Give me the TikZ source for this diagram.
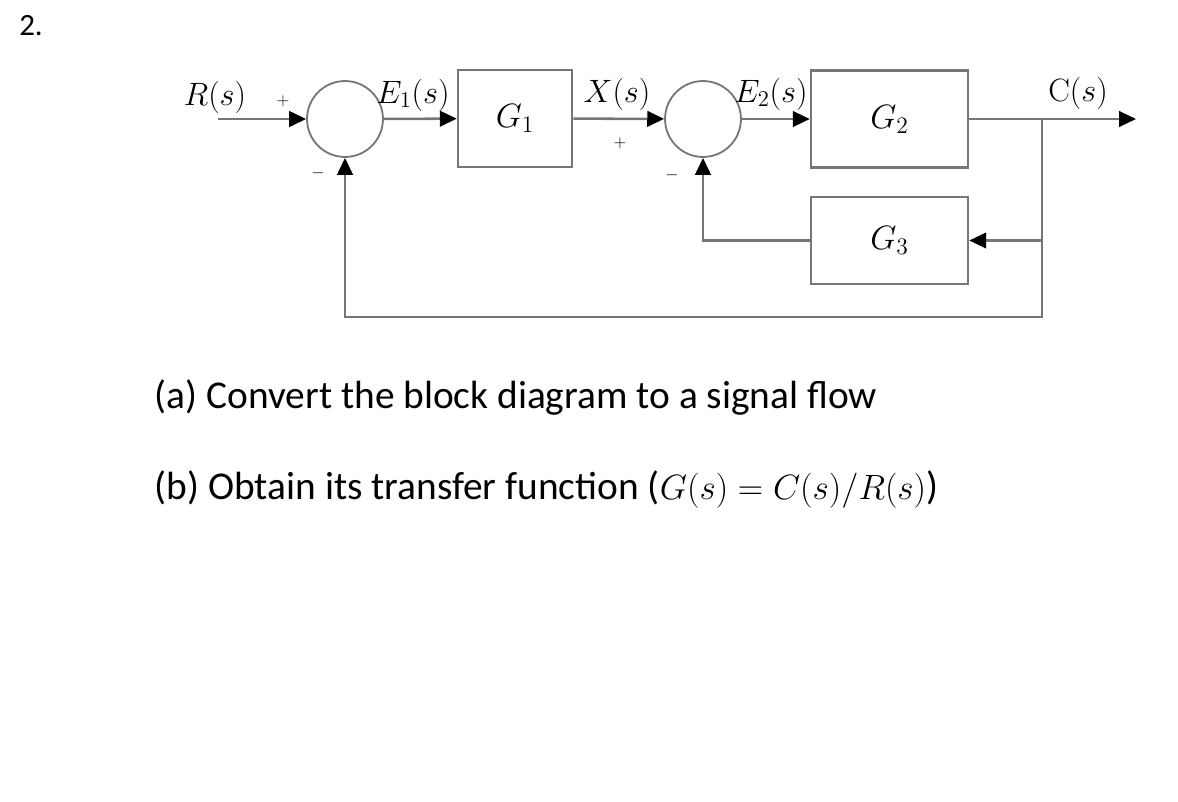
\RequirePackage{fix-cm}
\documentclass[tikz,border=0pt]{standalone}
\usepackage[no-math]{fontspec}
\setmainfont{Carlito}
\usepackage{amsmath}
\usepackage{tikz}
\usetikzlibrary{arrows.meta,positioning}
\definecolor{wire}{RGB}{118,118,118}
\tikzstyle{arrow} = [line width=1.8pt,draw=wire,-{Triangle[length=12pt,width=11pt,color=black]}]
\tikzstyle{block} = [rectangle, line width=1.8pt, draw=wire, fill=white]
\tikzstyle{sum} = [circle, line width=1.3pt, draw=wire, minimum size=54, inner sep=0pt]
\tikzstyle{sig} = [font=\fontsize{23}{26}\selectfont]
\tikzstyle{sgn} = [font=\fontsize{12}{14}\selectfont]

\begin{document}
\begin{tikzpicture}[x=0.025cm,y=-0.025cm]
        \useasboundingbox (0,0) rectangle (1178,802);
        \node (num) at (31,26) {\fontsize{22}{26}\selectfont 2.};

        \node (s1) [sum] at (345,119) {};
        \node (g1) [block, minimum width=114*0.025cm, minimum height=97*0.025cm] at (515,118.5) {\fontsize{24}{28}\selectfont $G_1$};
        \node (s2) [sum] at (703,119) {};
        \node (g2) [block, minimum width=157*0.025cm, minimum height=97*0.025cm] at (889.5,119) {\fontsize{24}{28}\selectfont $G_2$};
        \node (g3) [block, minimum width=157*0.025cm, minimum height=87*0.025cm] at (889.5,240.5) {\fontsize{24}{28}\selectfont $G_3$};

        \coordinate (in) at (218,119);
        \coordinate (br) at (1042,119);
        \coordinate (out) at (1136,119);
        \coordinate (bot) at (1042,317);

        % forward path
        \draw[arrow] (in) -- (s1);
        \draw[arrow] (s1) -- (g1);
        \draw[arrow] (g1) -- (s2);
        \draw[arrow] (s2) -- (g2);
        \draw[arrow] (g2) -- (out);

        % feedback paths
        \draw[arrow] (br) |- (g3.east);
        \draw[arrow] (g3.west) -| (s2.south);
        \draw[arrow] (br) -- (bot) -| (s1.south);

        % signal labels
        \node (r) [sig] at (215,97) {$R(s)$};
        \node (e1) [sig] at (413,95) {$E_1(s)$};
        \node (x) [sig] at (617,94) {$X(s)$};
        \node (e2) [sig] at (771,94) {$E_2(s)$};
        \node (c) [sig] at (1078,93) {$\mathrm{C}(s)$};
        \node (p1) [sgn] at (283,101) {$+$};
        \node (m1) [sgn] at (318,173) {$-$};
        \node (p2) [sgn] at (620,143) {$+$};
        \node (m2) [sgn] at (672,175) {$-$};

        % questions
        \node (qa) [anchor=west, font=\fontsize{28}{32}\selectfont] at (150,397) {(a) Convert the block diagram to a signal flow};
        \node (qb) [anchor=west, font=\fontsize{28}{32}\selectfont] at (150,489) {(b) Obtain its transfer function ({\fontsize{25}{28}\selectfont$G(s) = C(s)/R(s)$})};
    \end{tikzpicture}
\end{document}
